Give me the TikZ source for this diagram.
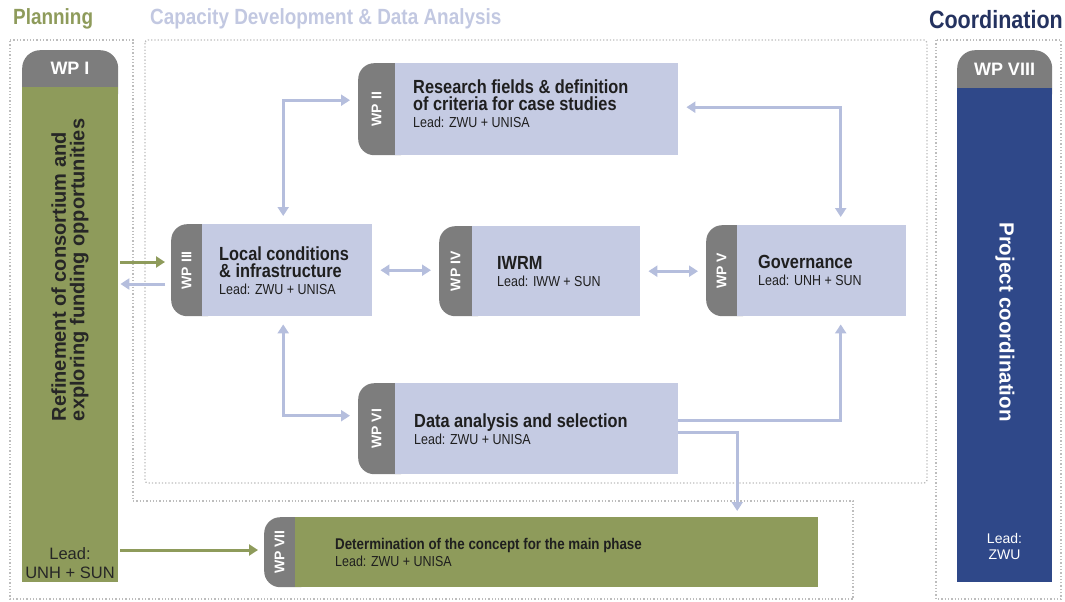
\documentclass[tikz,border=0pt]{standalone}
\usepackage{fontspec}
\setmainfont{Liberation Sans}
\newfontfamily\condfont{Liberation Sans}[FakeStretch=0.86]
\usetikzlibrary{arrows.meta,positioning}

\definecolor{wpblue}{HTML}{C5CBE3}
\definecolor{capgrey}{HTML}{7D7D7D}
\definecolor{wpgreen}{HTML}{8E9B5B}
\definecolor{wpnavy}{HTML}{2F4889}
\definecolor{linklav}{HTML}{B5BEDD}
\definecolor{headlav}{HTML}{C2C8E1}
\definecolor{headnavy}{HTML}{24325F}
\definecolor{dotgrey}{HTML}{BDBDBD}

\newcommand\leadfont{\mdseries\fontsize{14.5}{16}\selectfont}

\begin{document}
\begin{tikzpicture}[x=1pt,y=-1pt,
  wpbody/.style={fill=wpblue, anchor=north west, inner sep=0pt},
  wpcap/.style={fill=capgrey, rounded corners=16pt, anchor=north west, inner sep=0pt},
  caplabel/.style={rotate=90, text=white, font=\bfseries\fontsize{14}{14}\selectfont},
  wptitle/.style={align=left, inner sep=0pt, text=black!88, font=\condfont\bfseries\fontsize{19}{17}\selectfont},
  link/.style={draw=linklav, line width=3pt, -{Triangle[length=9pt,width=11pt]}},
  dlink/.style={link, {Triangle[length=9pt,width=11pt]}-{Triangle[length=9pt,width=11pt]}, shorten <=8pt, shorten >=8pt},
  glink/.style={link, draw=wpgreen},
  dotframe/.style={draw=dotgrey, line width=1.3pt, dotted}]
\useasboundingbox (0,0) rectangle (1065,602);

% dotted frames
\draw[dotframe] (10,40) -- (133,40) -- (133,501) -- (853,501) -- (853,599) -- (10,599) -- cycle;
\draw[dotframe, rounded corners=3pt] (145,40) rectangle (927,483);
\draw[dotframe] (936,40) rectangle (1061,599);

% headings
\node[anchor=base west, inner sep=0pt, text=wpgreen, font=\condfont\bfseries\fontsize{22}{22}\selectfont] (hplan) at (13,25) {Planning};
\node[anchor=base west, inner sep=0pt, text=headlav, font=\condfont\bfseries\fontsize{22}{22}\selectfont] (hcap) at (150,25) {Capacity Development \& Data Analysis};
\node[anchor=base east, inner sep=0pt, text=headnavy, font=\condfont\bfseries\fontsize{25}{25}\selectfont] (hcoord) at (1063,29) {Coordination};

% WP I
\node[wpcap, rounded corners=18pt, minimum width=96pt, minimum height=60pt] (c1) at (22,50) {};
\node[fill=wpgreen, anchor=north west, inner sep=0pt, minimum width=96pt, minimum height=495pt] (wp1) at (22,87) {};
\node[text=white, font=\bfseries\fontsize{18}{18}\selectfont] (l1) at (70,68) {WP I};
\node[rotate=90, align=left, text=black!85, font=\bfseries\fontsize{20}{18.5}\selectfont] (t1) at (70,270) {Refinement of consortium and\\exploring funding opportunities};
\node[align=center, text=black!85, font=\fontsize{16.5}{19}\selectfont] (ld1) at (70,563) {Lead:\\UNH + SUN};

% WP VIII
\node[wpcap, rounded corners=18pt, minimum width=95pt, minimum height=60pt] (c8) at (957,50) {};
\node[fill=wpnavy, anchor=north west, inner sep=0pt, minimum width=95pt, minimum height=494pt] (wp8) at (957,88) {};
\node[text=white, font=\bfseries\fontsize{18}{18}\selectfont] (l8) at (1004.5,69) {WP VIII};
\node[rotate=-90, text=white, font=\bfseries\fontsize{20.5}{20}\selectfont] (t8) at (1005,322) {Project coordination};
\node[align=center, text=white, font=\fontsize{14}{16}\selectfont] (ld8) at (1004.5,546) {Lead:\\ZWU};

% WP II
\node[wpcap, minimum width=57pt, minimum height=92pt] (c2) at (358,63) {};
\node[wpbody, minimum width=283pt, minimum height=92pt] (wp2) at (395,63) {};
\node[caplabel] (l2) at ([xshift=18.5pt]c2.west) {WP II};
\node[wptitle, right=18pt of wp2.west, yshift=6pt] (t2) {Research fields \& definition\\of criteria for case studies\\{\leadfont Lead: ZWU + UNISA}};

% WP III
\node[wpcap, minimum width=51pt, minimum height=92pt] (c3) at (171,224) {};
\node[wpbody, minimum width=170pt, minimum height=92pt] (wp3) at (202,224) {};
\node[caplabel] (l3) at ([xshift=15.5pt]c3.west) {WP III};
\node[wptitle, right=17pt of wp3.west] (t3) {Local conditions\\\& infrastructure\\{\leadfont Lead: ZWU + UNISA}};

% WP IV
\node[wpcap, minimum width=53pt, minimum height=90pt] (c4) at (439,226) {};
\node[wpbody, minimum width=168pt, minimum height=90pt] (wp4) at (472,226) {};
\node[caplabel] (l4) at ([xshift=16.5pt]c4.west) {WP IV};
\node[wptitle, right=25pt of wp4.west] (t4) {IWRM\\{\leadfont Lead: IWW + SUN}};

% WP V
\node[wpcap, minimum width=51pt, minimum height=91pt] (c5) at (706,225) {};
\node[wpbody, minimum width=169pt, minimum height=91pt] (wp5) at (737,225) {};
\node[caplabel] (l5) at ([xshift=15.5pt]c5.west) {WP V};
\node[wptitle, right=21pt of wp5.west] (t5) {Governance\\{\leadfont Lead: UNH + SUN}};

% WP VI
\node[wpcap, minimum width=57pt, minimum height=91pt] (c6) at (358,383) {};
\node[wpbody, minimum width=283pt, minimum height=91pt] (wp6) at (395,383) {};
\node[caplabel] (l6) at ([xshift=18.5pt]c6.west) {WP VI};
\node[wptitle, right=19pt of wp6.west] (t6) {Data analysis and selection\\{\leadfont Lead: ZWU + UNISA}};

% WP VII
\node[wpcap, minimum width=51pt, minimum height=70pt] (c7) at (264,517) {};
\node[wpbody, fill=wpgreen, minimum width=523pt, minimum height=70pt] (wp7) at (295,517) {};
\node[caplabel] (l7) at ([xshift=15.5pt]c7.west) {WP VII};
\node[wptitle, right=40pt of wp7.west, font=\condfont\bfseries\fontsize{15.5}{17}\selectfont] (t7) {Determination of the concept for the main phase\\{\leadfont Lead: ZWU + UNISA}};

% arrows
\draw[glink, shorten <=2pt, shorten >=6pt] (wp1.east |- 0,262) -- (c3.west |- 0,262);
\draw[link, shorten <=6pt, shorten >=2pt] (c3.west |- 0,284) -- (wp1.east |- 0,284);
\draw[glink, shorten <=2pt, shorten >=6pt] (wp1.east |- 0,550) -- (c7.west |- 0,550);
\draw[dlink] ([xshift=-4pt]wp3.north) |- ([yshift=9pt]c2.west);
\draw[dlink] ([yshift=2pt]wp2.east) -| ([xshift=19pt]wp5.north);
\draw[dlink] (wp3.east) -- (wp3.east -| c4.west);
\draw[dlink] (wp4.east) -- (wp4.east -| c5.west);
\draw[dlink] ([xshift=-4pt]wp3.south) |- ([yshift=13pt]c6.west);
\draw[link, shorten >=8pt] ([yshift=8pt]wp6.east) -| ([xshift=19pt]wp5.south);
\draw[link, shorten >=6pt] ([yshift=-4pt]wp6.east) -| ([xshift=180.5pt]wp7.north);
\end{tikzpicture}
\end{document}
